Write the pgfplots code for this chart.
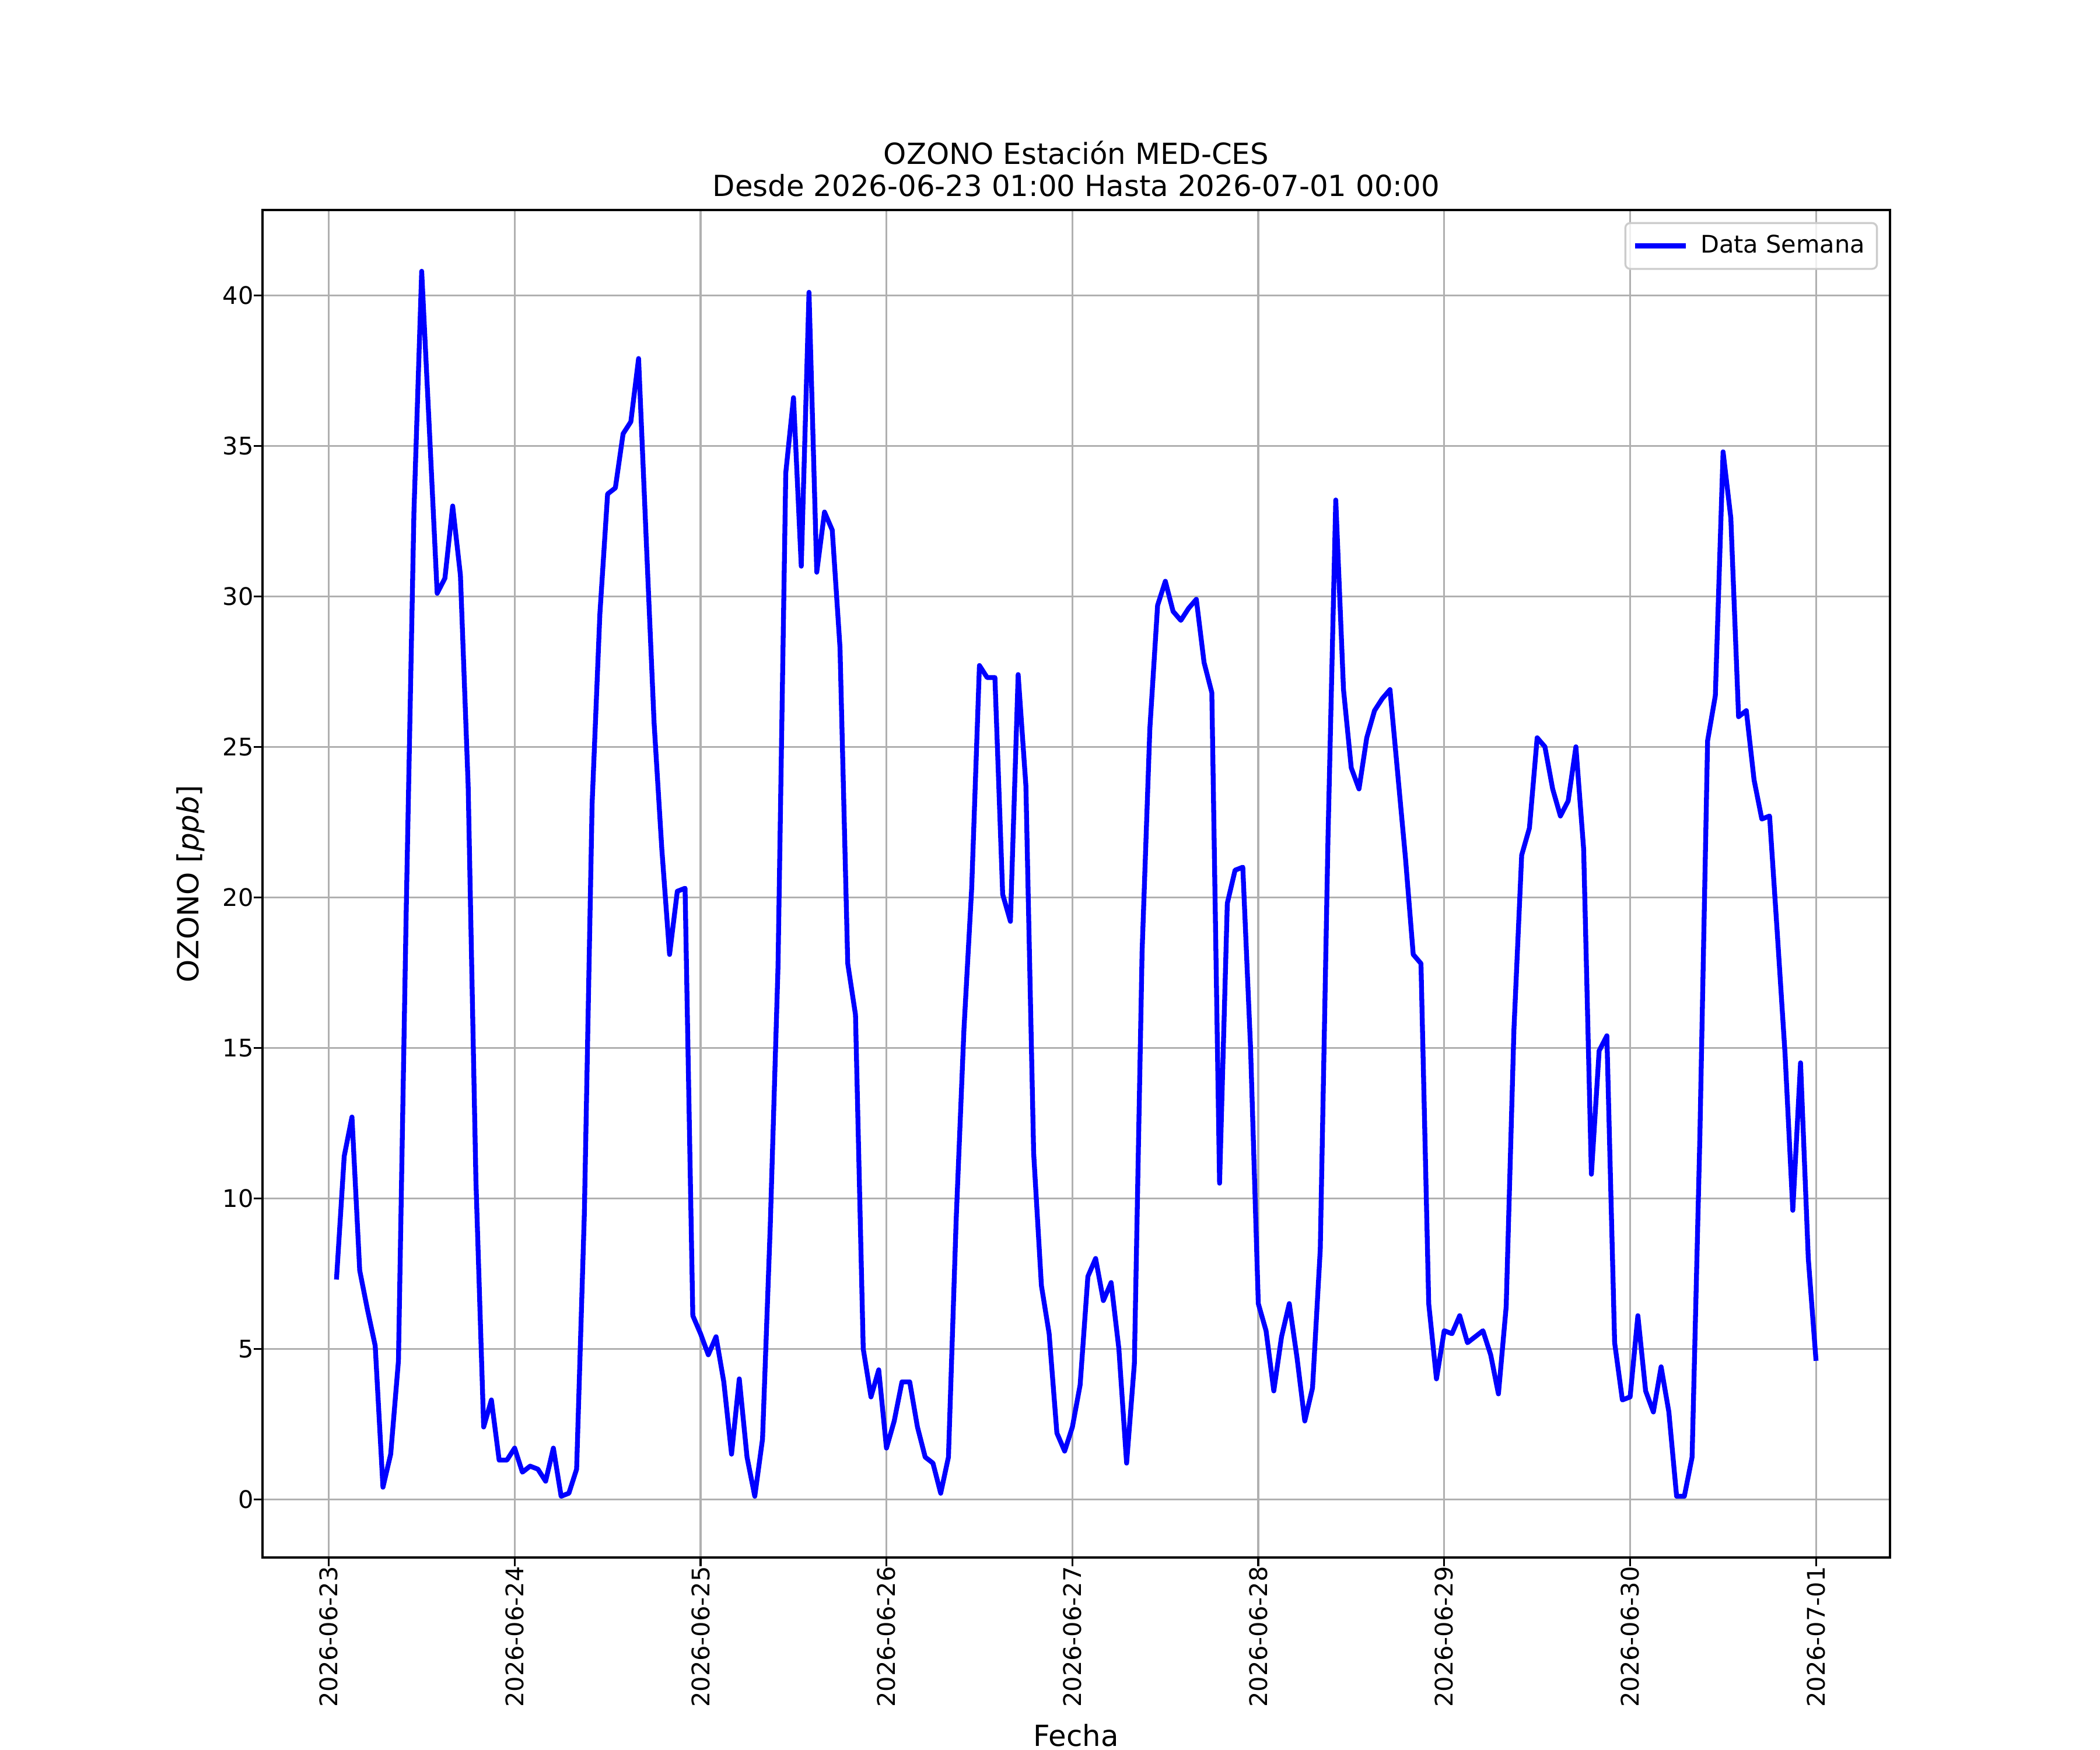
\documentclass[border=0pt]{standalone}
\usepackage{fontspec}
\setmainfont{DejaVu Sans}
\usepackage{pgfplots}
\pgfplotsset{compat=1.18}
\usepackage{pgfplotstable}
\definecolor{gridgray}{HTML}{B0B0B0}
\definecolor{legframe}{HTML}{CCCCCC}

% hours counted from 2026-06-23 00:00
\pgfplotstableread{
h v
1 7.3
2 11.4
3 12.7
4 7.6
5 6.3
6 5.1
7 0.4
8 1.5
9 4.6
10 19.5
11 32.8
12 40.8
13 35.5
14 30.1
15 30.6
16 33.0
17 30.7
18 23.7
19 10.6
20 2.4
21 3.3
22 1.3
23 1.3
24 1.7
25 0.9
26 1.1
27 1.0
28 0.6
29 1.7
30 0.1
31 0.2
32 1.0
33 9.5
34 23.1
35 29.4
36 33.4
37 33.6
38 35.4
39 35.8
40 37.9
41 31.8
42 25.8
43 21.6
44 18.1
45 20.2
46 20.3
47 6.1
48 5.5
49 4.8
50 5.4
51 3.9
52 1.5
53 4.0
54 1.4
55 0.1
56 2.0
57 9.1
58 17.7
59 34.1
60 36.6
61 31.0
62 40.1
63 30.8
64 32.8
65 32.2
66 28.3
67 17.8
68 16.1
69 5.0
70 3.4
71 4.3
72 1.7
73 2.6
74 3.9
75 3.9
76 2.4
77 1.4
78 1.2
79 0.2
80 1.4
81 9.3
82 15.6
83 20.3
84 27.7
85 27.3
86 27.3
87 20.1
88 19.2
89 27.4
90 23.7
91 11.5
92 7.1
93 5.5
94 2.2
95 1.6
96 2.4
97 3.8
98 7.4
99 8.0
100 6.6
101 7.2
102 5.0
103 1.2
104 4.5
105 18.2
106 25.6
107 29.7
108 30.5
109 29.5
110 29.2
111 29.6
112 29.9
113 27.8
114 26.8
115 10.5
116 19.8
117 20.9
118 21.0
119 15.0
120 6.5
121 5.6
122 3.6
123 5.4
124 6.5
125 4.7
126 2.6
127 3.7
128 8.3
129 22.0
130 33.2
131 26.9
132 24.3
133 23.6
134 25.3
135 26.2
136 26.6
137 26.9
138 24.1
139 21.3
140 18.1
141 17.8
142 6.5
143 4.0
144 5.6
145 5.5
146 6.1
147 5.2
148 5.4
149 5.6
150 4.8
151 3.5
152 6.4
153 15.6
154 21.4
155 22.3
156 25.3
157 25.0
158 23.6
159 22.7
160 23.2
161 25.0
162 21.6
163 10.8
164 14.9
165 15.4
166 5.2
167 3.3
168 3.4
169 6.1
170 3.6
171 2.9
172 4.4
173 2.9
174 0.1
175 0.1
176 1.4
177 12.0
178 25.2
179 26.7
180 34.8
181 32.6
182 26.0
183 26.2
184 23.9
185 22.6
186 22.7
187 18.8
188 14.8
189 9.6
190 14.5
191 8.0
192 4.6
}\ozono

\begin{document}
\begin{tikzpicture}
\useasboundingbox (-1.5in,-1.1in) rectangle (10.5in,8.9in);
\begin{axis}[
  at={(0,0)}, anchor=south west,
  scale only axis, width=9.3in, height=7.7in,
  xmin=-8.55, xmax=201.55, ymin=-1.935, ymax=42.835,
  xtick={0,24,48,72,96,120,144,168,192},
  xticklabels={2026-06-23,2026-06-24,2026-06-25,2026-06-26,2026-06-27,2026-06-28,2026-06-29,2026-06-30,2026-07-01},
  ytick={0,5,10,15,20,25,30,35,40},
  grid=major,
  grid style={gridgray, line width=0.8pt},
  axis line style={line width=0.8pt, black},
  tick style={line width=0.8pt, black},
  tick align=outside, major tick length=3.5pt,
  tick pos=left,
  minor tick num=0,
  /pgf/number format/assume math mode=true,
  ticklabel style={font=\fontsize{10}{12}\selectfont},
  xticklabel style={rotate=90, anchor=east, inner sep=0pt},
  yticklabel style={anchor=east, inner sep=0pt},
  legend cell align=left,
  legend image code/.code={\draw[#1, line width=2pt] (0pt,0pt) -- (21pt,0pt);},
  legend style={at={(1,1)}, xshift=-5pt, yshift=-5pt, anchor=north east,
    draw=legframe, line width=0.8pt, rounded corners=2pt,
    fill=white, fill opacity=0.8, text opacity=1,
    font=\fontsize{10}{12}\selectfont,
    inner xsep=3pt, inner ysep=3pt,
    /tikz/every odd column/.append style={column sep=3pt}},
]
\addplot[color={rgb,255:red,0;green,0;blue,255}, line width=2pt, line join=round] table[x=h,y=v]{\ozono};
\addlegendentry{Data Semana}
\end{axis}
\node[anchor=base, font=\fontsize{12}{14.4}\selectfont, inner sep=0pt] at (4.65in,7.7in+19pt) {OZONO Estación MED-CES};
\node[anchor=base, font=\fontsize{12}{14.4}\selectfont, inner sep=0pt] at (4.65in,7.7in+5.6pt) {Desde 2026-06-23 01:00 Hasta 2026-07-01 00:00};
\node[anchor=base, font=\fontsize{12}{14.4}\selectfont, inner sep=0pt] at (4.65in,-78pt) {Fecha};
\node[anchor=base, rotate=90, font=\fontsize{12}{14.4}\selectfont, inner sep=0pt] at (-26.4pt,3.85in) {OZONO [\textit{ppb}]};
\end{tikzpicture}
\end{document}
